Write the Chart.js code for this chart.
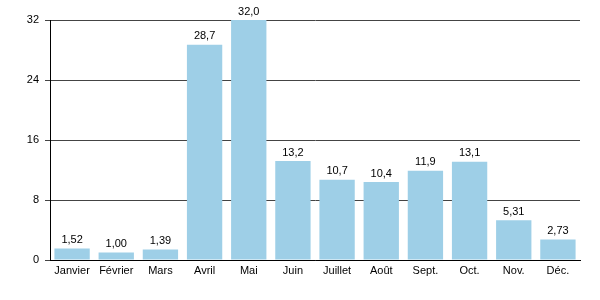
<!DOCTYPE html>
<html>
<head>
<meta charset="utf-8">
<script src="https://cdn.jsdelivr.net/npm/chart.js@4"></script>
<style>
  html, body { margin: 0; padding: 0; background: #fff; }
  #wrap { width: 600px; height: 300px; }
</style>
</head>
<body>
<div id="wrap"><canvas id="bar-chart"></canvas></div>
<script>
const months = ["Janvier","Février","Mars","Avril","Mai","Juin","Juillet","Août","Sept.","Oct.","Nov.","Déc."];
const values = [1.52, 1.00, 1.39, 28.7, 32.0, 13.2, 10.7, 10.4, 11.9, 13.1, 5.31, 2.73];
const yTicks = [0, 8, 16, 24, 32];

const fontFamily = '"Liberation Sans", Arial, Helvetica, sans-serif';

// French decimal labels over each bar
const valueLabels = {
  id: 'valueLabels',
  afterDatasetsDraw(chart) {
    const ctx = chart.ctx;
    const meta = chart.getDatasetMeta(0);
    ctx.save();
    ctx.font = '11px ' + fontFamily;
    ctx.fillStyle = '#000';
    ctx.textAlign = 'center';
    ctx.textBaseline = 'bottom';
    meta.data.forEach((bar, i) => {
      const txt = values[i].toPrecision(3).replace('.', ',');
      ctx.fillText(txt, bar.x, bar.y - 3);
    });
    ctx.restore();
  }
};

new Chart(document.getElementById("bar-chart"), {
  type: 'bar',
  data: {
    labels: months,
    datasets: [{
      data: values,
      backgroundColor: '#9ecfe7',
      borderWidth: 0,
      barPercentage: 0.8,
      categoryPercentage: 1.0
    }]
  },
  options: {
    responsive: true,
    maintainAspectRatio: false,
    animation: false,
    layout: { padding: { top: 20, right: 20, left: 0, bottom: 0 } },
    plugins: {
      legend: { display: false },
      title: { display: false },
      tooltip: { enabled: false }
    },
    scales: {
      x: {
        grid: { display: false, drawTicks: false },
        border: { display: true, color: '#000', width: 1 },
        ticks: {
          color: '#000',
          font: { size: 11, family: fontFamily },
          padding: 4,
          maxRotation: 0,
          autoSkip: false
        },
        afterFit(scale) { scale.height = 40; }
      },
      y: {
        min: 0,
        max: 32,
        afterBuildTicks(scale) { scale.ticks = yTicks.map(v => ({ value: v })); },
        grid: {
          color: '#444',
          lineWidth: 1,
          tickLength: 5,
          drawTicks: true
        },
        border: { display: true, color: '#000', width: 1 },
        ticks: {
          color: '#000',
          font: { size: 11, family: fontFamily },
          padding: 6
        },
        afterFit(scale) { scale.width = 50; }
      }
    }
  },
  plugins: [valueLabels]
});
</script>
</body>
</html>
